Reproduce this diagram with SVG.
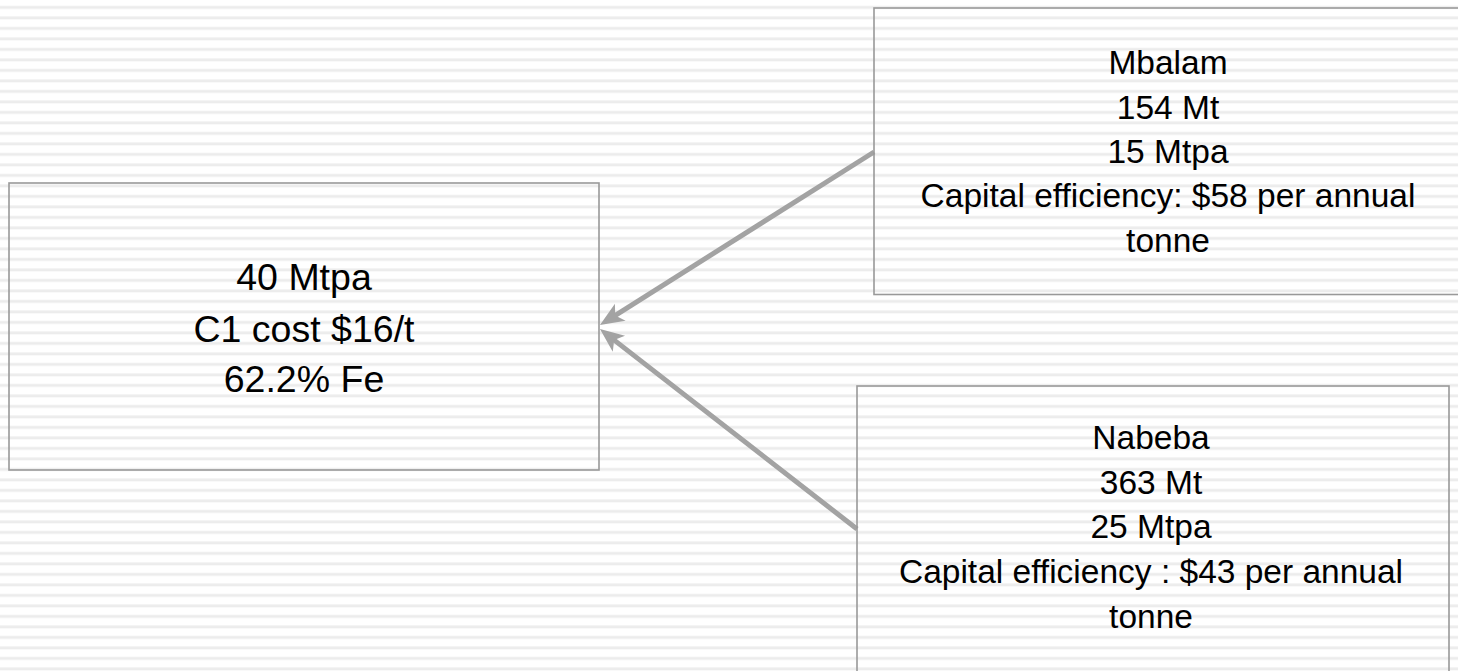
<svg xmlns="http://www.w3.org/2000/svg" width="1458" height="671" viewBox="0 0 1458 671">
  <defs>
    <pattern id="stripes" patternUnits="userSpaceOnUse" x="0" y="0" width="1458" height="10.5">
      <rect x="0" y="0" width="1458" height="10.5" fill="#ffffff"/>
      <rect x="0" y="6" width="1458" height="2.8" fill="#ececec"/>
    </pattern>
    <marker id="head" markerUnits="userSpaceOnUse" markerWidth="24" markerHeight="20" refX="10" refY="10" orient="auto" overflow="visible">
      <path d="M0,0 L24,10 L0,20 L6,10 z" fill="#a3a3a3"/>
    </marker>
  </defs>
  <style>
    .box { fill: none; stroke: #999999; stroke-width: 1.6; }
    .conn { stroke: #a3a3a3; stroke-width: 5; fill: none; }
    .t { font-family: "Liberation Sans", Arial, sans-serif; fill: #000000; text-anchor: middle; }
    .big { font-size: 37.5px; }
    .sm { font-size: 33.5px; }
  </style>
  <rect x="0" y="0" width="1458" height="671" fill="url(#stripes)"/>
  <g id="connectors">
    <line class="conn" x1="874" y1="152" x2="611.8" y2="317.6" marker-end="url(#head)"/>
    <line class="conn" x1="857" y1="529" x2="611" y2="337.6" marker-end="url(#head)"/>
  </g>
  <g id="node-main">
    <rect class="box" x="9" y="183" width="590" height="287"/>
    <text class="t big" x="304" y="290">40 Mtpa</text>
    <text class="t big" x="304" y="342">C1 cost $16/t</text>
    <text class="t big" x="304" y="392">62.2% Fe</text>
  </g>
  <g id="node-mbalam">
    <rect class="box" x="874" y="8" width="600" height="286.5"/>
    <text class="t sm" x="1168" y="74">Mbalam</text>
    <text class="t sm" x="1168" y="119">154 Mt</text>
    <text class="t sm" x="1168" y="163">15 Mtpa</text>
    <text class="t sm" x="1168" y="207">Capital efficiency: $58 per annual</text>
    <text class="t sm" x="1168" y="252">tonne</text>
  </g>
  <g id="node-nabeba">
    <rect class="box" x="857" y="386" width="592" height="300"/>
    <text class="t sm" x="1151" y="449">Nabeba</text>
    <text class="t sm" x="1151" y="494">363 Mt</text>
    <text class="t sm" x="1151" y="538">25 Mtpa</text>
    <text class="t sm" x="1151" y="583">Capital efficiency : $43 per annual</text>
    <text class="t sm" x="1151" y="628">tonne</text>
  </g>
</svg>
